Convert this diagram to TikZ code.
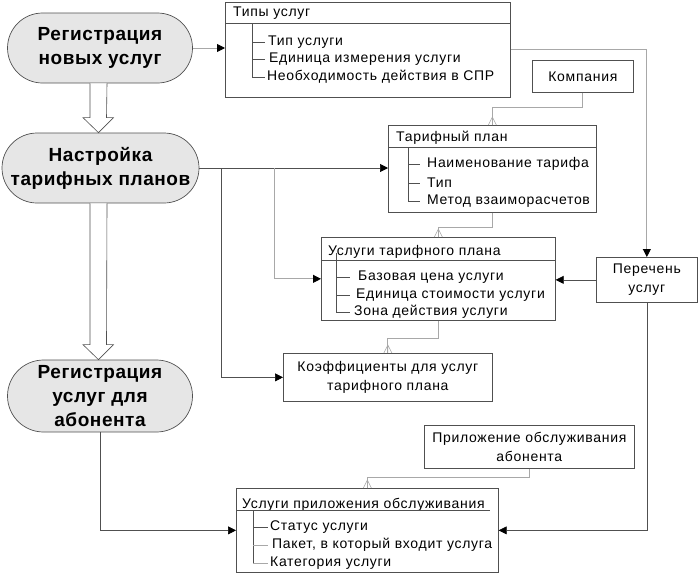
\documentclass[tikz,border=0pt]{standalone}
\usepackage{fontspec}
\setmainfont{Liberation Sans}[LetterSpace=5]
\newfontfamily\procfont{Liberation Sans}[LetterSpace=3]
\usetikzlibrary{arrows.meta,calc}
\definecolor{lgray}{HTML}{A8A8A8}
\definecolor{dgray}{HTML}{505050}
\definecolor{efill}{HTML}{E6E6E6}
\begin{document}
\begin{tikzpicture}[x=1pt,y=-1pt,
  proc/.style={draw=dgray, fill=efill, line width=0.7pt, inner sep=0pt,
    align=center, font=\procfont\bfseries\fontsize{19}{24}\selectfont},
  ent/.style={draw=dgray, line width=0.7pt, inner sep=0pt, anchor=north west},
  txt/.style={inner sep=0pt, font=\fontsize{14}{19}\selectfont},
  ctxt/.style={inner sep=0pt, align=center, font=\fontsize{14}{19}\selectfont},
  tree/.style={draw=dgray, line width=0.6pt},
  conn/.style={draw=dgray, line width=0.7pt},
  lconn/.style={draw=lgray, line width=0.9pt},
  arr/.style={-{Triangle[length=8pt,width=8pt,color=black]}},
  hollow/.style={draw=dgray, line width=0.6pt, fill=white},
  crow/.pic={\draw[lgray, line width=0.6pt] (-4,0) -- (0,-8) -- (4,0) (0,-8) -- (0,0);}
]
\useasboundingbox (0,0) rectangle (698,573);

% process shapes
\node[proc, minimum width=185pt, minimum height=70pt, rounded corners=35pt] (e1) at (100,48) {\raisebox{-2pt}{\parbox{180pt}{\centering Регистрация\\новых услуг}}};
\node[proc, minimum width=197pt, minimum height=70pt, rounded corners=35pt] (e2) at (100.5,168) {\raisebox{-2pt}{\parbox{195pt}{\centering Настройка\\тарифных планов}}};
\node[proc, minimum width=185pt, minimum height=72pt, rounded corners=36pt] (e3) at (100,396) {Регистрация\\услуг для\\абонента};

% hollow arrows
\draw[hollow] ($(e1.south)+(-10,0)$) -- ($(e2.north)+(-10.5,-15)$) -- ++(-7,0) -- ($(e2.north)+(-2,0)$)
  -- ($(e2.north)+(13,-15)$) -- ++(-7,0) -- ($(e1.south)+(7,0)$);
\draw[hollow] ($(e2.south)+(-10.5,0)$) -- ($(e3.north)+(-10,-15)$) -- ++(-7,0) -- ($(e3.north)+(-1.5,0)$)
  -- ($(e3.north)+(13.5,-15)$) -- ++(-7,0) -- ($(e2.south)+(6.5,0)$);

% Типы услуг
\node[ent, minimum width=285pt, minimum height=95pt] (tipy) at (225,2) {};
\node[txt, anchor=west] (tipyh) at (233,13) {Типы услуг};
\draw[tree] (tipy.west |- 0,23) -- (tipy.east |- 0,23);
\node[txt, anchor=west] (tipy1) at (268,42) {Тип услуги};
\node[txt, anchor=west] (tipy2) at (269,59) {Единица измерения услуги};
\node[txt, anchor=west] (tipy3) at (267,77) {Необходимость действия в СПР};
\draw[tree] (252,23) |- (265,77) (252,42) -- (265,42) (252,59) -- (265,59);

% Компания
\node[ent, minimum width=101pt, minimum height=32pt] (komp) at (532,60) {};
\node[ctxt] (kompt) at (komp.center) {Компания};

% Тарифный план
\node[ent, minimum width=208pt, minimum height=87pt] (tarif) at (388,125) {};
\node[txt, anchor=west] (tarifh) at (396,138) {Тарифный план};
\draw[tree] (tarif.west |- 0,147) -- (tarif.east |- 0,147);
\node[txt, anchor=west] (tarif1) at (427,164) {Наименование тарифа};
\node[txt, anchor=west] (tarif2) at (427,183) {Тип};
\node[txt, anchor=west] (tarif3) at (427,201) {Метод взаиморасчетов};
\draw[tree] (408,147) |- (420,201) (408,164) -- (420,164) (408,183) -- (420,183);

% Услуги тарифного плана
\node[ent, minimum width=234pt, minimum height=83pt] (uslt) at (321,237) {};
\node[txt, anchor=west] (uslth) at (328,252) {Услуги тарифного плана};
\draw[tree] (uslt.west |- 0,260) -- (uslt.east |- 0,260);
\node[txt, anchor=west] (uslt1) at (358,277) {Базовая цена услуги};
\node[txt, anchor=west] (uslt2) at (356,295) {Единица стоимости услуги};
\node[txt, anchor=west] (uslt3) at (354,312) {Зона действия услуги};
\draw[tree] (336,253) |- (350,312) (336,277) -- (350,277) (336,295) -- (350,295);

% Перечень услуг
\node[ent, minimum width=101pt, minimum height=45pt] (pere) at (596,257) {};
\node[ctxt] (peret) at (pere.center) {Перечень\\услуг};

% Коэффициенты
\node[ent, minimum width=209pt, minimum height=48pt] (koef) at (283,353) {};
\node[ctxt] (koeft) at (koef.center) {Коэффициенты для услуг\\тарифного плана};

% Приложение обслуживания абонента
\node[ent, minimum width=210pt, minimum height=43pt] (pril) at (424,425) {};
\node[ctxt] (prilt) at (pril.center) {Приложение обслуживания\\абонента};

% Услуги приложения обслуживания
\node[ent, minimum width=262pt, minimum height=84pt] (uslp) at (236,488) {};
\node[txt, anchor=west] (uslph) at (242,505) {Услуги приложения обслуживания};
\draw[tree] (uslp.west |- 0,510) -- (490,510);
\node[txt, anchor=west] (uslp1) at (270,527) {Статус услуги};
\node[txt, anchor=west] (uslp2) at (272,545) {Пакет, в который входит услуга};
\node[txt, anchor=west] (uslp3) at (270,563) {Категория услуги};
\draw[tree] (253,510) -- (253,563);
\draw[tree] (253,527) -- (268,527);
\draw[lgray, line width=0.7pt] (253,545) -- (268,545) (253,563) -- (268,563);

% connectors
\draw[lconn, arr] (e1.east) -- (e1.east -| tipy.west);
\draw[lconn, arr] (tipy.east) -- (tipy.east -| pere.north) -- (pere.north);
\draw[lconn] (komp.south) -- ++(0,15) -| (tarif.north);
\pic at (tarif.north) {crow};
\draw[conn, arr] (e2.east) -- (e2.east -| tarif.west);
\coordinate (b1) at ($(e2.east)+(22,0)$);
\coordinate (b2) at ($(e2.east)+(75,0)$);
\draw[conn, arr] (b1) |- (koef.west);
\draw[lconn, arr] (b2) |- (uslt.west);
\draw[lconn] (tarif.south) -- ++(0,15) -| (uslt.north);
\pic at (uslt.north) {crow};
\draw[conn, arr] (pere.west) -- (pere.west -| uslt.east);
\draw[lconn] (uslt.south) -- ++(0,18) -| (koef.north);
\pic at (koef.north) {crow};
\draw[conn, arr] (e3.south) |- (uslp.west);
\draw[conn, arr] (pere.south) |- (uslp.east);
\draw[lconn] (pril.south) -- ++(0,9) -| (uslp.north);
\pic at (uslp.north) {crow};
\end{tikzpicture}
\end{document}
